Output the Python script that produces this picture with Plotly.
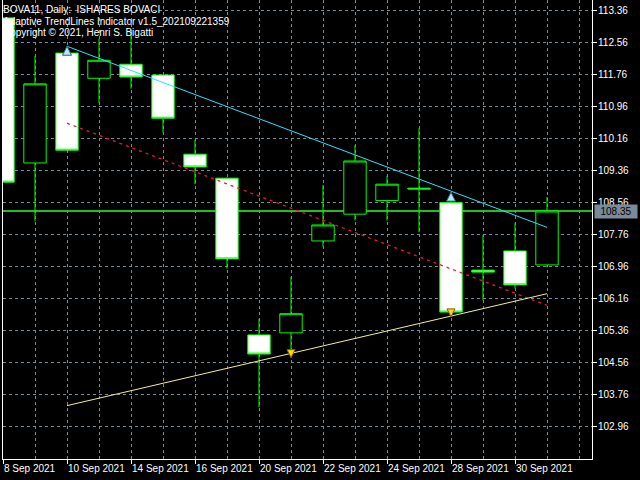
import plotly.graph_objects as go

# ---- data ----
dates = ["8 Sep 2021", "9 Sep 2021", "10 Sep 2021", "13 Sep 2021", "14 Sep 2021",
         "15 Sep 2021", "16 Sep 2021", "17 Sep 2021", "20 Sep 2021", "21 Sep 2021",
         "22 Sep 2021", "23 Sep 2021", "24 Sep 2021", "27 Sep 2021", "28 Sep 2021",
         "29 Sep 2021", "30 Sep 2021", "1 Oct 2021"]
open_ = [113.18, 109.55, 112.30, 111.67, 112.02, 111.75, 109.77, 109.17, 105.25, 105.30,
         107.60, 108.27, 108.61, 108.92, 108.56, 106.87, 107.35, 107.00]
high = [113.18, 112.23, 112.47, 112.66, 112.82, 111.75, 110.13, 109.17, 105.65, 106.70,
        109.00, 110.00, 109.23, 110.42, 108.82, 107.74, 108.05, 108.70]
low = [109.07, 108.09, 109.87, 111.05, 111.41, 110.31, 109.02, 106.91, 103.44, 104.68,
       107.46, 108.11, 108.11, 107.82, 105.70, 106.11, 106.41, 106.94]
close = [109.07, 111.53, 109.87, 112.12, 111.70, 110.67, 109.45, 107.15, 104.77, 105.78,
         108.00, 109.60, 109.02, 108.90, 105.82, 106.82, 106.50, 108.35]

# trend lines: (start bar, end bar) and prices
upper_line_bars = [2, 17]
upper_line_prices = [112.47, 107.94]
mid_line_bars = [2, 17]
mid_line_prices = [110.545, 105.99]
lower_line_bars = [2, 17]
lower_line_prices = [103.48, 106.28]
high_pivots = [2, 14]
low_pivots = [9, 14]

y_ticks = [113.36, 112.56, 111.76, 110.96, 110.16, 109.36, 108.56, 107.76,
           106.96, 106.16, 105.36, 104.56, 103.76, 102.96]
label_lines = ["BOVA11, Daily:  ISHARES BOVACI",
               "Adaptive TrendLines Indicator v1.5_202109221359",
               "Copyright \u00a9 2021, Henri S. Bigatti"]

FONT = "Liberation Sans"
GREEN = "#00FF00"
GRID = "#778899"

x = list(range(len(dates)))

fig = go.Figure()
fig.add_trace(go.Candlestick(
    x=x, open=open_, high=high, low=low, close=close,
    increasing=dict(fillcolor="#000000", line=dict(color=GREEN, width=1)),
    decreasing=dict(fillcolor="#FFFFFF", line=dict(color=GREEN, width=1)),
    whiskerwidth=0, showlegend=False, hoverinfo="skip"))

fig.add_trace(go.Scatter(x=upper_line_bars, y=upper_line_prices, mode="lines",
                         line=dict(color="#22E4FF", width=1), showlegend=False))
fig.add_trace(go.Scatter(x=mid_line_bars, y=mid_line_prices, mode="lines",
                         line=dict(color="#F0143C", width=1.3, dash="3px,4px"), showlegend=False))
fig.add_trace(go.Scatter(x=lower_line_bars, y=lower_line_prices, mode="lines",
                         line=dict(color="#F5EB9A", width=1), showlegend=False))

fig.add_trace(go.Scatter(x=high_pivots, y=[high[i] for i in high_pivots], mode="markers",
                         marker=dict(symbol="arrow-up", size=9, color="#B8E4F4",
                                     line=dict(color="#306090", width=1)),
                         showlegend=False))
fig.add_trace(go.Scatter(x=low_pivots, y=[low[i] for i in low_pivots], mode="markers",
                         marker=dict(symbol="arrow-down", size=8, color="#FFD21E",
                                     line=dict(color="#806000", width=1)),
                         showlegend=False))

# bid line (last close)
fig.add_hline(y=close[-1], line=dict(color="#22BB22", width=2), layer="below")

fig.add_annotation(x=1, xref="paper", y=close[-1], yref="y", xanchor="left",
                   text=f"{close[-1]:.2f}", showarrow=False, xshift=2, yshift=-1,
                   bgcolor="#7A8A9A", borderpad=1, width=40,
                   font=dict(family=FONT, size=10, color="#000000"))

for i, t in enumerate(label_lines):
    fig.add_annotation(x=0, xref="paper", y=1, yref="paper", xanchor="left", yanchor="top",
                       text=t, showarrow=False, xshift=-1, yshift=-3 - 11.7 * i,
                       borderpad=0, font=dict(family=FONT, size=10, color="#FFFFFF"))

fig.update_layout(
    width=640, height=480,
    margin=dict(l=3, r=48, t=0, b=21, autoexpand=False),
    paper_bgcolor="#000000", plot_bgcolor="#000000",
    font=dict(family=FONT, size=10, color="#FFFFFF"),
    showlegend=False, boxgap=0.3, boxgroupgap=0,
)
fig.update_xaxes(
    range=[0, 18.406], showline=True, linecolor="#FFFFFF", linewidth=1,
    ticks="outside", ticklen=4, tickcolor="#FFFFFF",
    tickmode="array", tickvals=x[::2], ticktext=dates[::2],
    ticklabelposition="outside right", tickangle=0, automargin=False,
    tickfont=dict(family=FONT, size=10, color="#FFFFFF"),
    showgrid=True, gridcolor=GRID, griddash="3px,3px", gridwidth=1,
    minor=dict(dtick=1, tick0=0, showgrid=True, gridcolor=GRID, griddash="3px,3px", ticks=""),
    zeroline=False, rangeslider=dict(visible=False), fixedrange=True,
)
fig.update_yaxes(
    range=[102.145, 113.6275], side="right", showline=True, linecolor="#FFFFFF",
    linewidth=1, mirror=True, automargin=False,
    ticks="outside", ticklen=4, tickcolor="#FFFFFF", ticklabelstandoff=-1,
    tickmode="array", tickvals=y_ticks, ticktext=[f"{v:.2f}" for v in y_ticks],
    tickfont=dict(family=FONT, size=10, color="#FFFFFF"),
    showgrid=True, gridcolor=GRID, griddash="3px,3px", gridwidth=1,
    zeroline=False, fixedrange=True,
)

fig.write_html("out.html", config={"displayModeBar": False},
               post_script="document.body.style.margin='0';document.body.style.overflow='hidden';")
